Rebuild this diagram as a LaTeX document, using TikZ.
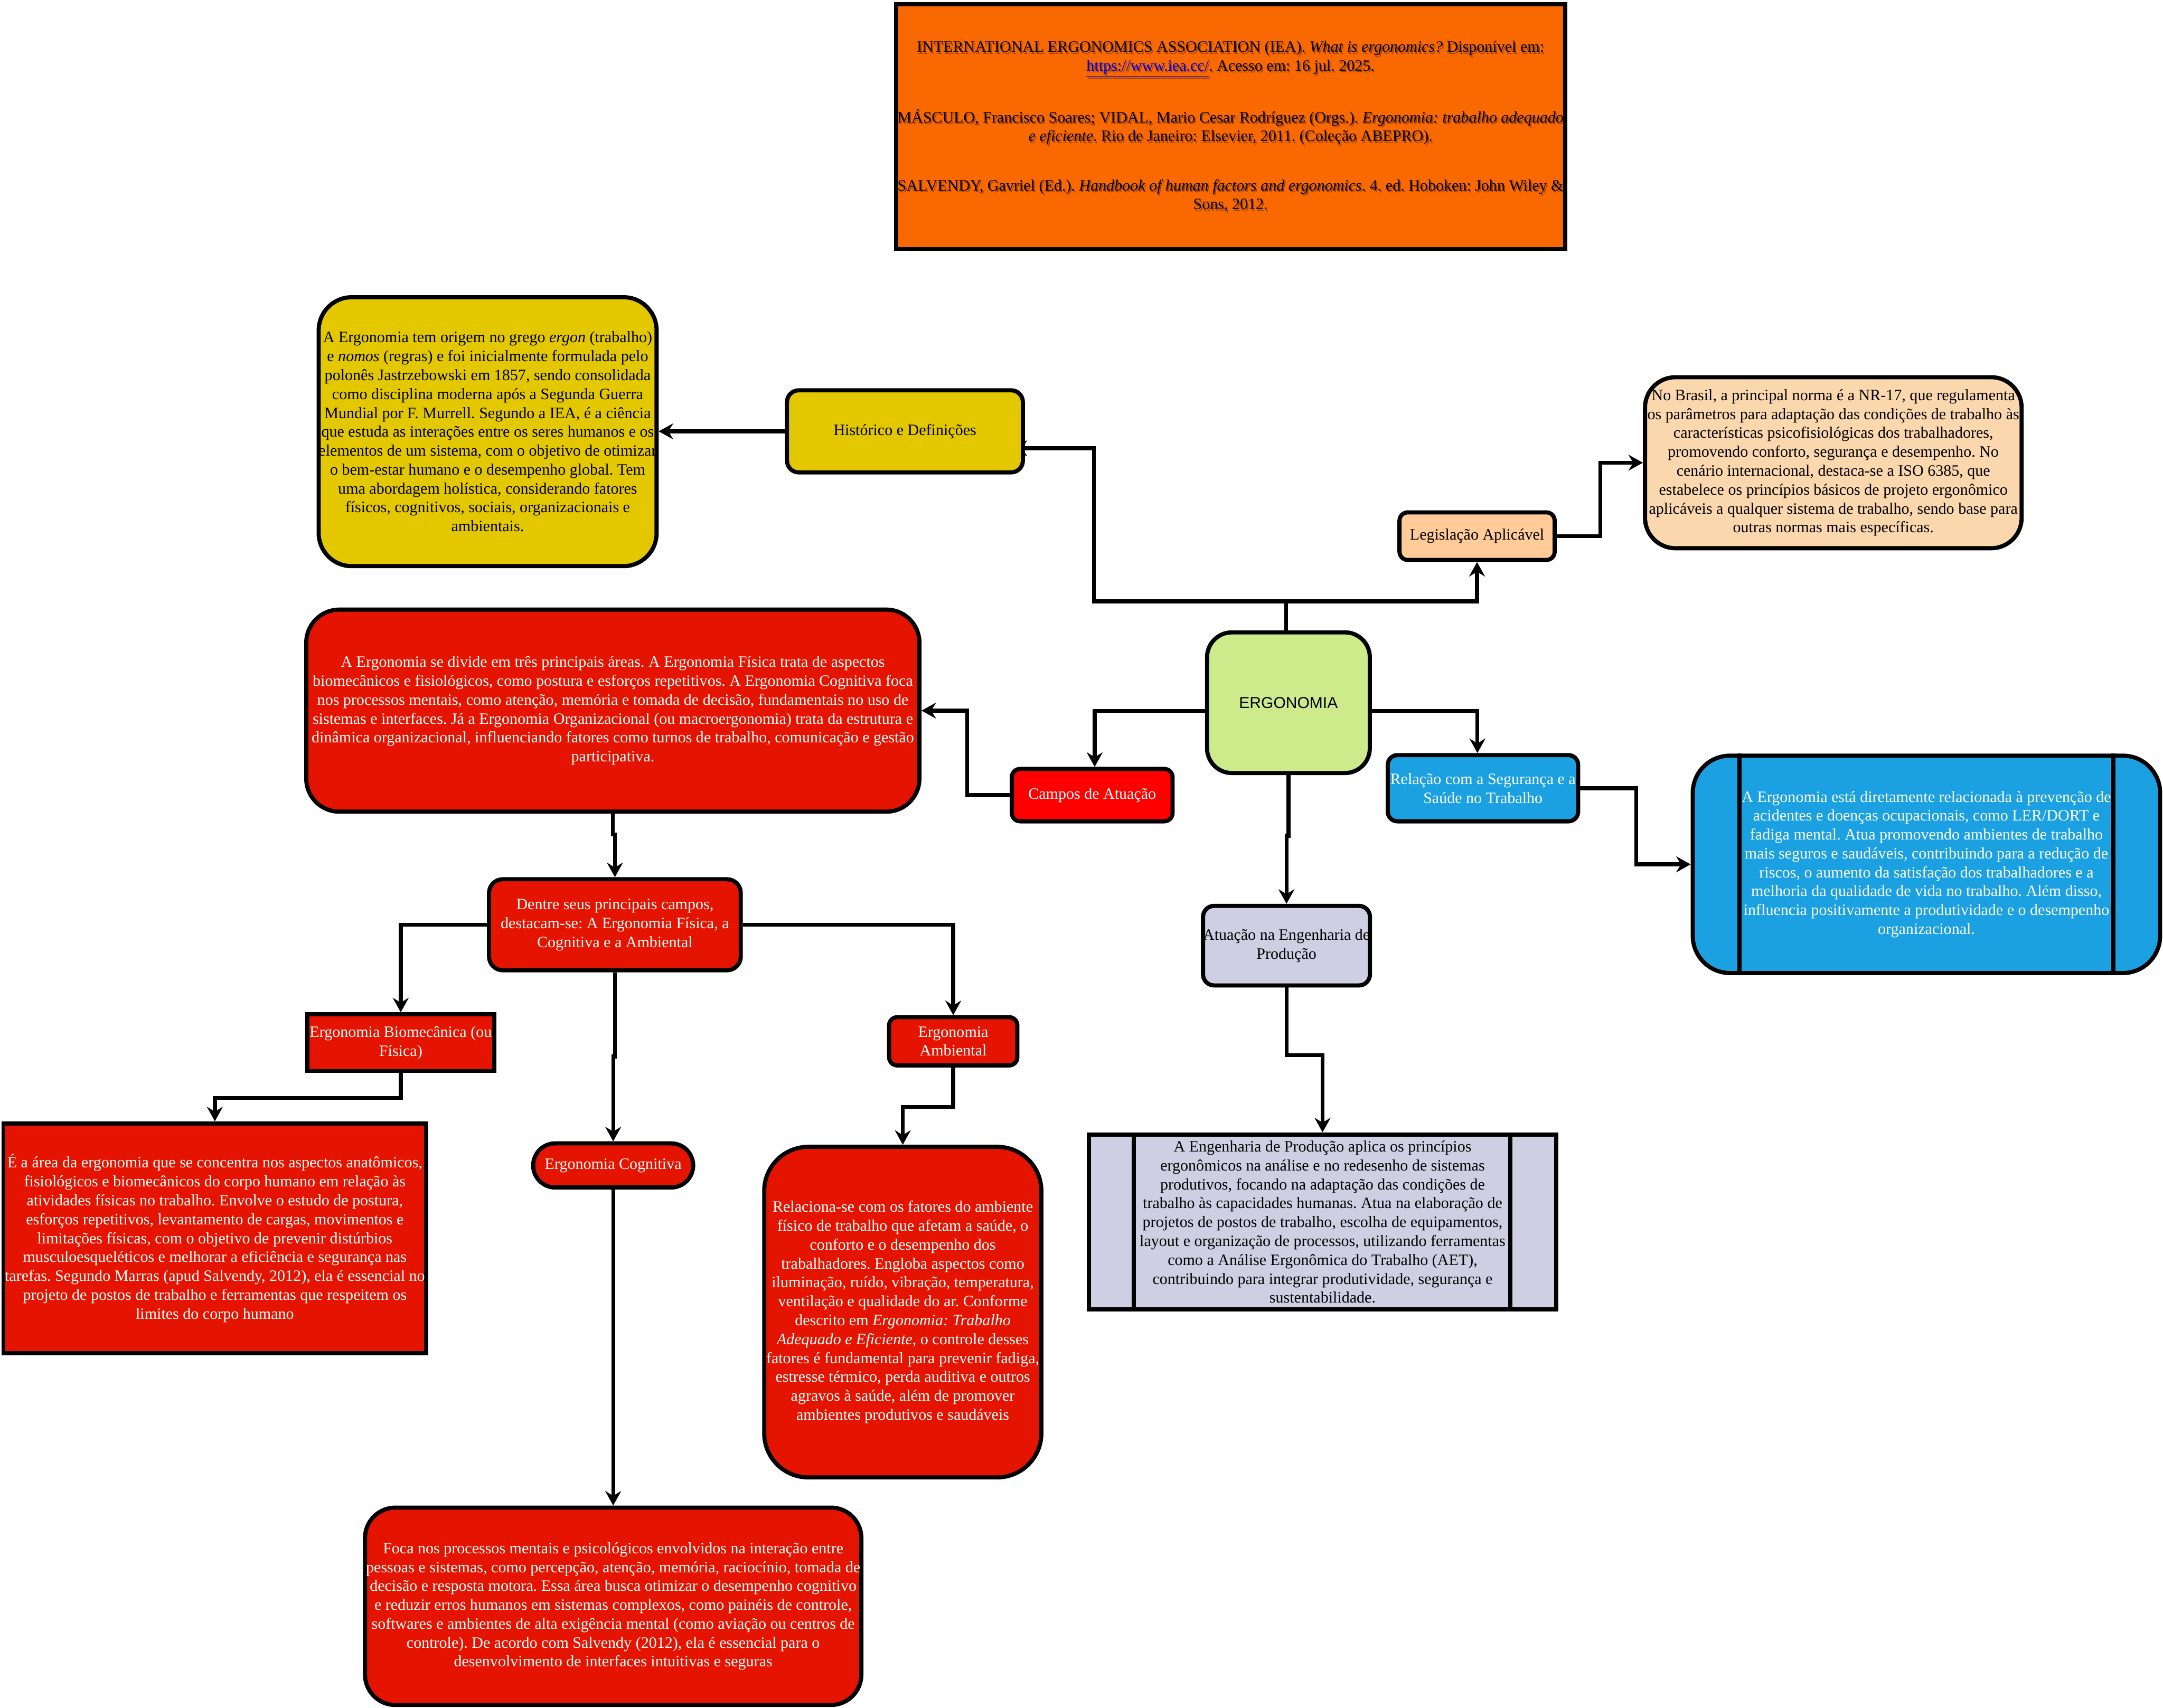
\documentclass[tikz,border=0pt]{standalone}
\usepackage{fontspec}
\setmainfont{Liberation Serif}
\newfontfamily\sansf{Liberation Sans}
\usetikzlibrary{arrows.meta}
\pgfdeclarelayer{background}
\pgfsetlayers{background,main}
\definecolor{cOrange}{HTML}{FA6800}
\definecolor{cYellow}{HTML}{E3C800}
\definecolor{cRed}{HTML}{E51400}
\definecolor{cPure}{HTML}{FF0000}
\definecolor{cGreen}{HTML}{CDEB8B}
\definecolor{cPeach}{HTML}{FFCC99}
\definecolor{cLight}{HTML}{FAD7AC}
\definecolor{cBlue}{HTML}{1BA1E2}
\definecolor{cLav}{HTML}{D0CEE2}
\definecolor{cLink}{HTML}{0000EE}
\newcommand{\reftext}[1]{INTERNATIONAL ERGONOMICS ASSOCIATION (IEA). \textit{What is ergonomics?} Disponível em:\\
#1. Acesso em: 16 jul. 2025.\\[22pt]
MÁSCULO, Francisco Soares; VIDAL, Mario Cesar Rodríguez (Orgs.). \textit{Ergonomia: trabalho adequado}\\
\textit{e eficiente}. Rio de Janeiro: Elsevier, 2011. (Coleção ABEPRO).\\[22pt]
SALVENDY, Gavriel (Ed.). \textit{Handbook of human factors and ergonomics}. 4. ed. Hoboken: John Wiley \&\\
Sons, 2012.}
\begin{document}
\frenchspacing
\begin{tikzpicture}[x=1pt,y=-1pt,
  box/.style={draw=black, line width=3pt, inner sep=0pt, align=center,
    font=\frenchspacing\fontsize{11.5}{13.7}\selectfont},
  wtext/.style={text=white},
  conn/.style={line width=2.8pt, -{Stealth[length=10.5pt,width=11.5pt,inset=3.5pt]}},
  inner/.style={line width=3pt}]
\begin{pgfonlayer}{background}
\fill[white] (0,0) rectangle (1568,1238.3);
\end{pgfonlayer}
\useasboundingbox (0,0) rectangle (1568,1238.3);

% references
\node[box, fill=cOrange, minimum width=485pt, minimum height=177.5pt] (ref) at (892,91.75) {};
\node[align=center, inner sep=0pt, text=black, text opacity=0.35,
  font=\frenchspacing\fontsize{11.5}{13.7}\selectfont] (refshadow) at ([xshift=0.9pt,yshift=-1.3pt]ref.center)
  {\reftext{\underline{https://www.iea.cc/}}};
\node[align=center, inner sep=0pt, font=\frenchspacing\fontsize{11.5}{13.7}\selectfont] (reftxt) at (ref.center)
  {\reftext{\textcolor{cLink}{\underline{https://www.iea.cc/}}}};

% historico
\node[box, fill=cYellow, rounded corners=24pt, minimum width=244pt, minimum height=195pt] (hdesc) at (353.5,313)
{A Ergonomia tem origem no grego \textit{ergon} (trabalho)\\
e \textit{nomos} (regras) e foi inicialmente formulada pelo\\
polonês Jastrzebowski em 1857, sendo consolidada\\
como disciplina moderna após a Segunda Guerra\\
Mundial por F. Murrell. Segundo a IEA, é a ciência\\
que estuda as interações entre os seres humanos e os\\
elementos de um sistema, com o objetivo de otimizar\\
o bem-estar humano e o desempenho global. Tem\\
uma abordagem holística, considerando fatores\\
físicos, cognitivos, sociais, organizacionais e\\
ambientais.};
\node[box, fill=cYellow, rounded corners=8.5pt, minimum width=171pt, minimum height=59.5pt] (hist) at (656,312.75)
{Histórico e Definições};

% centre
\node[box, fill=cGreen, rounded corners=18pt, minimum width=118pt, minimum height=102pt,
  font=\sansf\fontsize{11.5}{13.7}\selectfont] (ergo) at (934,509.5) {ERGONOMIA};

% legislacao
\node[box, fill=cPeach, rounded corners=6pt, minimum width=112.5pt, minimum height=34.5pt] (legis) at (1070.75,388.75)
{Legislação Aplicável};
\node[box, fill=cLight, rounded corners=22pt, minimum width=273pt, minimum height=124pt] (nr) at (1329,335.5)
{No Brasil, a principal norma é a NR-17, que regulamenta\\
os parâmetros para adaptação das condições de trabalho às\\
características psicofisiológicas dos trabalhadores,\\
promovendo conforto, segurança e desempenho. No\\
cenário internacional, destaca-se a ISO 6385, que\\
estabelece os princípios básicos de projeto ergonômico\\
aplicáveis a qualquer sistema de trabalho, sendo base para\\
outras normas mais específicas.};

% campos
\node[box, wtext, fill=cRed, rounded corners=24pt, minimum width=444.5pt, minimum height=146.5pt] (cdesc) at (444.25,515.25)
{A Ergonomia se divide em três principais áreas. A Ergonomia Física trata de aspectos\\
biomecânicos e fisiológicos, como postura e esforços repetitivos. A Ergonomia Cognitiva foca\\
nos processos mentais, como atenção, memória e tomada de decisão, fundamentais no uso de\\
sistemas e interfaces. Já a Ergonomia Organizacional (ou macroergonomia) trata da estrutura e\\
dinâmica organizacional, influenciando fatores como turnos de trabalho, comunicação e gestão\\
participativa.};
\node[box, wtext, fill=cPure, rounded corners=6pt, minimum width=116.5pt, minimum height=38pt] (campos) at (791.75,576.5)
{Campos de Atuação};
\node[box, wtext, fill=cRed, rounded corners=10pt, minimum width=182.5pt, minimum height=66pt] (dentre) at (445.75,670.5)
{Dentre seus principais campos,\\
destacam-se: A Ergonomia Física, a\\
Cognitiva e a Ambiental};
\node[box, wtext, fill=cRed, minimum width=135.3pt, minimum height=41pt] (biomec) at (290.5,756)
{Ergonomia Biomecânica (ou\\ Física)};
\node[box, wtext, fill=cRed, minimum width=306.5pt, minimum height=166.7pt] (bdesc) at (155.75,897.85)
{É a área da ergonomia que se concentra nos aspectos anatômicos,\\
fisiológicos e biomecânicos do corpo humano em relação às\\
atividades físicas no trabalho. Envolve o estudo de postura,\\
esforços repetitivos, levantamento de cargas, movimentos e\\
limitações físicas, com o objetivo de prevenir distúrbios\\
musculoesqueléticos e melhorar a eficiência e segurança nas\\
tarefas. Segundo Marras (apud Salvendy, 2012), ela é essencial no\\
projeto de postos de trabalho e ferramentas que respeitem os\\
limites do corpo humano};
\node[box, wtext, fill=cRed, rounded corners=16pt, minimum width=116pt, minimum height=32pt] (cogn) at (444.5,845)
{Ergonomia Cognitiva};
\node[box, wtext, fill=cRed, rounded corners=22pt, minimum width=359.8pt, minimum height=143.1pt] (cgdesc) at (444.5,1164.65)
{Foca nos processos mentais e psicológicos envolvidos na interação entre\\
pessoas e sistemas, como percepção, atenção, memória, raciocínio, tomada de\\
decisão e resposta motora. Essa área busca otimizar o desempenho cognitivo\\
e reduzir erros humanos em sistemas complexos, como painéis de controle,\\
softwares e ambientes de alta exigência mental (como aviação ou centros de\\
controle). De acordo com Salvendy (2012), ela é essencial para o\\
desenvolvimento de interfaces intuitivas e seguras};
\node[box, wtext, fill=cRed, rounded corners=6pt, minimum width=93pt, minimum height=35pt] (amb) at (691,755)
{Ergonomia\\ Ambiental};
\node[box, wtext, fill=cRed, rounded corners=32pt, minimum width=200.9pt, minimum height=239.7pt] (adesc) at (654.45,951.35)
{Relaciona-se com os fatores do ambiente\\
físico de trabalho que afetam a saúde, o\\
conforto e o desempenho dos\\
trabalhadores. Engloba aspectos como\\
iluminação, ruído, vibração, temperatura,\\
ventilação e qualidade do ar. Conforme\\
descrito em \textit{Ergonomia: Trabalho}\\
\textit{Adequado e Eficiente}, o controle desses\\
fatores é fundamental para prevenir fadiga,\\
estresse térmico, perda auditiva e outros\\
agravos à saúde, além de promover\\
ambientes produtivos e saudáveis};

% seguranca
\node[box, wtext, fill=cBlue, rounded corners=7pt, minimum width=138pt, minimum height=48pt] (rel) at (1075,571.5)
{Relação com a Segurança e a\\ Saúde no Trabalho};
\node[box, wtext, fill=cBlue, rounded corners=27pt, minimum width=338.8pt, minimum height=157.6pt] (blue) at (1396.5,626.7)
{A Ergonomia está diretamente relacionada à prevenção de\\
acidentes e doenças ocupacionais, como LER/DORT e\\
fadiga mental. Atua promovendo ambientes de trabalho\\
mais seguros e saudáveis, contribuindo para a redução de\\
riscos, o aumento da satisfação dos trabalhadores e a\\
melhoria da qualidade de vida no trabalho. Além disso,\\
influencia positivamente a produtividade e o desempenho\\
organizacional.};
\draw[inner] ([xshift=35.4pt]blue.north west) -- ([xshift=35.4pt]blue.south west);
\draw[inner] ([xshift=-35.4pt]blue.north east) -- ([xshift=-35.4pt]blue.south east);

% engenharia
\node[box, fill=cLav, rounded corners=8pt, minimum width=121pt, minimum height=57.7pt] (atua) at (932.6,685.65)
{Atuação na Engenharia de\\ Produção};
\node[box, fill=cLav, minimum width=338.5pt, minimum height=127pt] (edesc) at (958.75,886)
{A Engenharia de Produção aplica os princípios\\
ergonômicos na análise e no redesenho de sistemas\\
produtivos, focando na adaptação das condições de\\
trabalho às capacidades humanas. Atua na elaboração de\\
projetos de postos de trabalho, escolha de equipamentos,\\
layout e organização de processos, utilizando ferramentas\\
como a Análise Ergonômica do Trabalho (AET),\\
contribuindo para integrar produtividade, segurança e\\
sustentabilidade.};
\draw[inner] ([xshift=34pt]edesc.north west) -- ([xshift=34pt]edesc.south west);
\draw[inner] ([xshift=-34.7pt]edesc.north east) -- ([xshift=-34.7pt]edesc.south east);

% connectors
\begin{pgfonlayer}{background}
\draw[conn] (hist.west) -- (hist.west -| hdesc.east);
\draw[conn] ([xshift=-1.6pt]ergo.north) -- ++(0,-21) -- ++(-139.4,0) |- ([xshift=-9pt,yshift=-12.3pt]hist.east);
\draw[conn] ([xshift=-1.6pt]ergo.north) -- ++(0,-21) -| (legis.south);
\draw[conn] (legis.east) -- ++(31.5,0) |- (nr.west);
\draw[conn] ([yshift=-6pt]ergo.west) -| ([xshift=1.8pt]campos.north);
\draw[conn] (campos.west) -- ++(-31,0) |- (cdesc.east);
\draw[conn] ([yshift=-6pt]ergo.east) -| ([xshift=-4pt]rel.north);
\draw[conn] (rel.east) -- ++(40.5,0) |- (blue.west);
\draw[conn] (ergo.south) -- ++(0,44) -| (atua.north);
\draw[conn] (atua.south) -- ++(0,49) -| (edesc.north);
\draw[conn] (cdesc.south) -- ++(0,15) -| (dentre.north);
\draw[conn] (dentre.west) -| (biomec.north);
\draw[conn] (dentre.east) -| (amb.north);
\draw[conn] (dentre.south) -- ++(0,61) -| (cogn.north);
\draw[conn] (biomec.south) -- ++(0,18) -| (bdesc.north);
\draw[conn] (amb.south) -- ++(0,28.5) -| (adesc.north);
\draw[conn] (cogn.south) -- (cgdesc.north);
\end{pgfonlayer}
\end{tikzpicture}
\end{document}
